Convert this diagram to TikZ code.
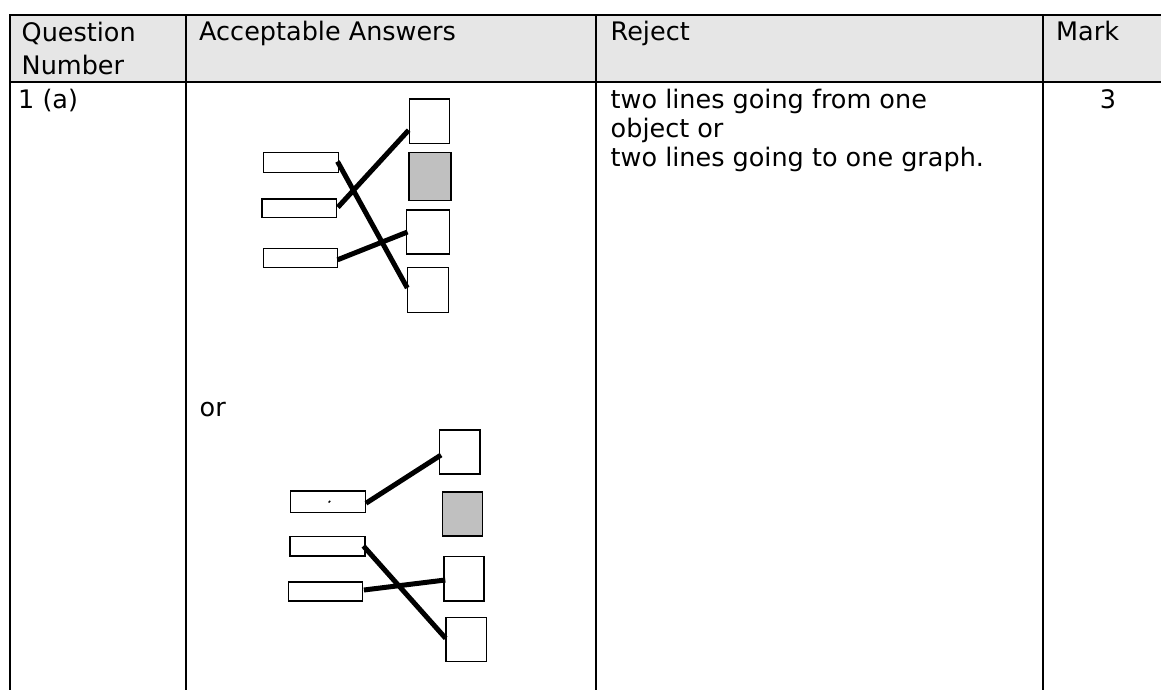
\documentclass[tikz,border=0pt]{standalone}
\usepackage{fontspec}
\setmainfont{DejaVu Sans}
\usetikzlibrary{calc}
\definecolor{headgrey}{HTML}{E6E6E6}
\definecolor{shade}{HTML}{C0C0C0}
\tikzset{
  rule/.style={line width=2.5pt, black},
  % multi-line cells are placed by the baseline of their last line
  cell/.style={anchor=base west, inner sep=0pt, align=left,
    font=\fontsize{25.5}{29}\selectfont},
  headcell/.style={cell, font=\fontsize{25.5}{33}\selectfont},
  objbox/.style={draw, line width=1.4pt, fill=white, inner sep=0pt},
  graphbox/.style={draw, line width=1.4pt, fill=white, inner sep=0pt},
  shaded/.style={fill=shade},
  link/.style={line width=5pt, black, line cap=butt},
}
\begin{document}
\begin{tikzpicture}[x=1pt, y=-1pt]
\useasboundingbox (0,0) rectangle (1161,690);
% header band
\fill[headgrey] (10,15) rectangle (1161,82);
% table rules
\draw[rule] (1161,15) -- (10,15) -- (10,690);
\draw[rule] (10,82) -- (1161,82);
\draw[rule] (186,15) -- (186,690);
\draw[rule] (596,15) -- (596,690);
\draw[rule] (1043,15) -- (1043,690);
% header text
\node[headcell] (hq) at (21.5,74.5) {Question\\Number};
\node[cell] (ha) at (199,41) {Acceptable Answers};
\node[cell] (hr) at (610.5,41) {Reject};
\node[cell] (hm) at (1056,41) {Mark};
% body text
\node[cell] (qn) at (18,108.5) {1 (a)};
\node[cell] (rj) at (610.5,166.5) {two lines going from one\\object or\\two lines going to one graph.};
\node[cell, anchor=base] (mk) at (1108,108.5) {3};
\node[cell] (or) at (199.5,416) {or};

% first matching diagram
\node[graphbox, minimum width=40pt, minimum height=44pt] (g1) at (429.3,121.2) {};
\node[graphbox, shaded, minimum width=42pt, minimum height=48pt] (g2) at (430,176.7) {};
\node[graphbox, minimum width=42.6pt, minimum height=44pt] (g3) at (428,232) {};
\node[graphbox, minimum width=41pt, minimum height=45pt] (g4) at (428,290) {};
\node[objbox, minimum width=75pt, minimum height=19.6pt] (o1) at (300.8,162.5) {};
\node[objbox, minimum width=74.7pt, minimum height=18.7pt] (o2) at (299.3,208.3) {};
\node[objbox, minimum width=74pt, minimum height=19pt] (o3) at (300.3,257.8) {};
\draw[link] ([xshift=-1.5pt,yshift=1pt]o1.east) -- ([xshift=0.5pt,yshift=2pt]g4.west);
\draw[link] ([xshift=0.5pt,yshift=1pt]o2.east) -- ([yshift=-9pt]g1.west);
\draw[link] ([xshift=-0.5pt,yshift=-2pt]o3.east) -- ([xshift=1.5pt]g3.west);

% second matching diagram
\node[graphbox, minimum width=40.7pt, minimum height=44pt] (h1) at (459.7,452) {};
\node[graphbox, shaded, minimum width=40.4pt, minimum height=44pt] (h2) at (462.5,514) {};
\node[graphbox, minimum width=40pt, minimum height=44.3pt] (h3) at (464,578.8) {};
\node[graphbox, minimum width=40.7pt, minimum height=44.4pt] (h4) at (466.3,639.5) {};
\node[objbox, minimum width=74.6pt, minimum height=21.3pt] (p1) at (328,501.7) {};
\node[objbox, minimum width=75pt, minimum height=19.3pt] (p2) at (327.5,546.3) {};
\node[objbox, minimum width=74.4pt, minimum height=19pt] (p3) at (325.5,591.5) {};
\draw[line width=1.3pt] ($(p1.center)+(0.6,0.8)$) -- ($(p1.center)+(2.2,-0.8)$);
\draw[link] ([yshift=-1.5pt]p1.east) -- ([xshift=2.4pt,yshift=-3pt]h1.west);
\draw[link] ([xshift=-2.3pt,yshift=0.3pt]p2.east) -- ([xshift=0.4pt,yshift=1.2pt]h4.west);
\draw[link] ([xshift=0.5pt,yshift=1.5pt]p3.east) -- ([xshift=2pt,yshift=-1.2pt]h3.west);
\end{tikzpicture}
\end{document}
